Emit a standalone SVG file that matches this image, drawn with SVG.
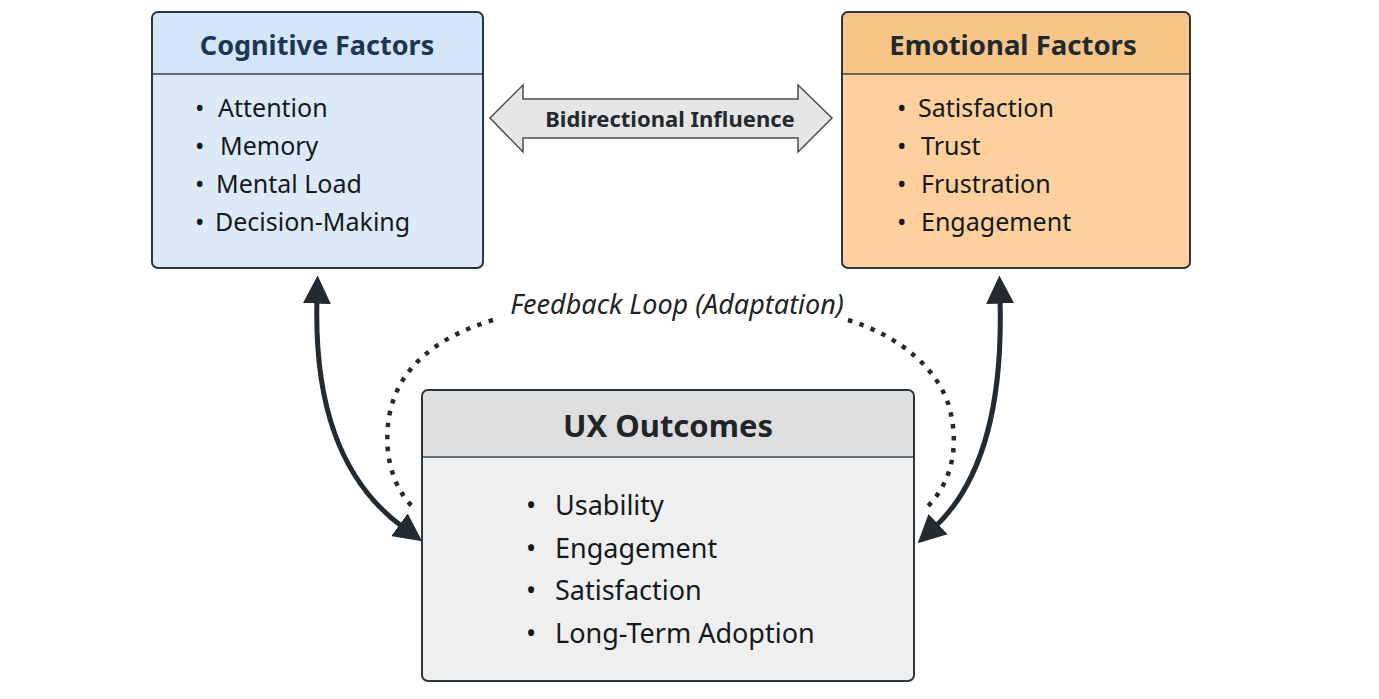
<svg xmlns="http://www.w3.org/2000/svg" width="1379" height="699" viewBox="0 0 1379 699">
<style>
.t{font-family:"Noto Sans","Open Sans","DejaVu Sans",sans-serif;font-weight:bold;text-anchor:middle}
.i{font-family:"Noto Sans","Open Sans","DejaVu Sans",sans-serif;fill:#15191d}
.div{stroke:#3a4650;stroke-width:1.5}
.frame{fill:none;stroke:#2b3640;stroke-width:2}
.conn{fill:none;stroke:#232b31;stroke-width:5}
.dot{fill:none;stroke:#232b31;stroke-width:4.5;stroke-dasharray:4.5 7.5}
</style>
<defs>
<marker id="ah" viewBox="0 0 10 10" refX="2" refY="5" markerWidth="28" markerHeight="28" markerUnits="userSpaceOnUse" orient="auto-start-reverse">
<path d="M0,0 L10,5 L0,10 z" fill="#232b31"/>
</marker>
</defs>
<rect width="1379" height="699" fill="#ffffff"/>
<g id="cognitive">
<rect x="152" y="12" width="331" height="256" rx="6" fill="#dceaf8"/>
<path d="M153,13 h329 v61 h-329 z" fill="#d3e5f6"/>
<line class="div" x1="152" y1="74" x2="483" y2="74"/>
<rect class="frame" x="152" y="12" width="331" height="256" rx="6"/>
<text class="t" x="317" y="55" font-size="27" fill="#1d3552">Cognitive Factors</text>
<g class="i" font-size="25">
<text x="195" y="117">•</text><text x="218" y="117">Attention</text>
<text x="195" y="155">•</text><text x="220" y="155">Memory</text>
<text x="195" y="193">•</text><text x="216" y="193">Mental Load</text>
<text x="195" y="231">•</text><text x="215" y="231">Decision-Making</text>
</g>
</g>
<g id="emotional">
<rect x="842" y="12" width="348" height="256" rx="6" fill="#fdd09d"/>
<path d="M843,13 h346 v61 h-346 z" fill="#f8c487"/>
<line class="div" x1="842" y1="74" x2="1190" y2="74"/>
<rect class="frame" x="842" y="12" width="348" height="256" rx="6"/>
<text class="t" x="1013" y="55" font-size="27.5" fill="#1e2a30">Emotional Factors</text>
<g class="i" font-size="25">
<text x="897" y="117">•</text><text x="918" y="117">Satisfaction</text>
<text x="897" y="155">•</text><text x="921" y="155">Trust</text>
<text x="897" y="193">•</text><text x="921" y="193">Frustration</text>
<text x="897" y="231">•</text><text x="921" y="231">Engagement</text>
</g>
</g>
<g id="ux">
<rect x="422" y="390" width="492" height="291" rx="6" fill="#efefef"/>
<path d="M423,391 h490 v66 h-490 z" fill="#dedede"/>
<line class="div" x1="422" y1="457" x2="914" y2="457"/>
<rect class="frame" x="422" y="390" width="492" height="291" rx="6"/>
<text class="t" x="668" y="437" font-size="31" fill="#1e2428">UX Outcomes</text>
<g class="i" font-size="27">
<text x="526" y="515">•</text><text x="555" y="515">Usability</text>
<text x="526" y="558">•</text><text x="555" y="558">Engagement</text>
<text x="526" y="600">•</text><text x="555" y="600">Satisfaction</text>
<text x="526" y="643">•</text><text x="555" y="643">Long-Term Adoption</text>
</g>
</g>
<g id="bidirectional">
<path d="M490,118 L523,85 L523,99 L798,99 L798,85 L832,118 L798,152 L798,138 L523,138 L523,152 Z" fill="#e6e6e6" stroke="#4a4f53" stroke-width="1.5"/>
<text class="t" x="670" y="127" font-size="22" fill="#24292d">Bidirectional Influence</text>
</g>
<g id="connectors">
<path class="conn" d="M317,298 C314,400 338,480 404,528" marker-start="url(#ah)" marker-end="url(#ah)"/>
<path class="conn" d="M1000,298 C1003,400 985,480 934,528" marker-start="url(#ah)" marker-end="url(#ah)"/>
<path class="dot" d="M493,320 C440,336 400,365 390,412 C382,450 392,488 414,508"/>
<path class="dot" d="M848,320 C900,336 940,370 950,410 C960,450 950,485 926,508"/>
<text x="677" y="314" font-family="Noto Sans,Open Sans,DejaVu Sans,sans-serif" font-style="italic" font-size="27" text-anchor="middle" fill="#1e2428">Feedback Loop (Adaptation)</text>
</g>
</svg>
